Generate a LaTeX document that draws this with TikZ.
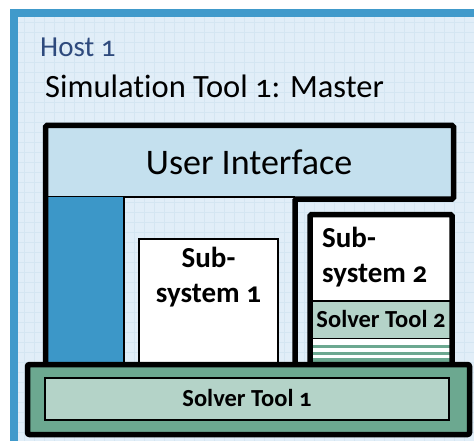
\documentclass[tikz,border=0pt]{standalone}
\usepackage{fontspec}
\setmainfont{Carlito}[Numbers=OldStyle, Ligatures=NoCommon]
\definecolor{bgc}{HTML}{E1EEF8}
\definecolor{gridc}{HTML}{D4E6F2}
\definecolor{framec}{HTML}{409ACB}
\definecolor{hostc}{HTML}{2E4A7D}
\definecolor{uifill}{HTML}{C4E0EE}
\definecolor{colblue}{HTML}{3C97C8}
\definecolor{solvo}{HTML}{6CA890}
\definecolor{solvi}{HTML}{B4D3C8}
\tikzset{
  thickline/.style={line width=5.5pt},
  thinline/.style={line width=1.2pt},
  subtext/.style={font=\bfseries\fontsize{29}{35}\selectfont, inner sep=0pt},
  solvtext/.style={font=\bfseries\fontsize{24.5}{28}\selectfont, inner sep=0pt},
}
\begin{document}
\begin{tikzpicture}[x=1pt,y=-1pt]
\useasboundingbox (0,0) rectangle (474,441);
\clip (0,0) rectangle (474,441);
\fill[white] (0,0) rectangle (474,441);
\fill[bgc] (14,13) rectangle (490,460);
\foreach \gx in {24,34,...,474} \draw[gridc, line width=0.7pt] (\gx,17) -- (\gx,441);
\foreach \gy in {22,32,...,441} \draw[gridc, line width=0.7pt] (18,\gy) -- (474,\gy);
\draw[framec, line width=8pt] (14,13) rectangle (490,460);

\node[anchor=base west, inner sep=0pt, font=\fontsize{29}{34}\selectfont, text=hostc] (host) at (40,57) {Host 1};
\node[anchor=base west, inner sep=0pt, font=\fontsize{32.5}{40}\selectfont] (sim) at (45,98) {Simulation Tool 1: Master};

% user interface
\fill[uifill] (46,126) rectangle (454,197);
\draw[thinline] (46,197) -- (295,197);
\node[anchor=base, inner sep=0pt, font=\fontsize{36}{42}\selectfont] (ui) at (249,175) {User Interface};

% blue column
\fill[colblue] (46,197) rectangle (124,364);
\draw[thinline] (124,197) -- (124,364);

% main outline
\draw[thickline, rounded corners=1.5pt] (45.5,366) -- (45.5,125.5) -- (453.5,125.5) -- (453.5,199) -- (295,199) -- (295,364);

% subsystem 1
\draw[thinline, fill=white] (139,364) -- (139,239) -- (278,239) -- (278,364);
\node[anchor=base, subtext] (s1a) at (208.5,267) {Sub-};
\node[anchor=base, subtext] (s1b) at (208.5,302) {system 1};

% subsystem 2
\fill[white] (310,214.5) rectangle (452,362);
\fill[solvi] (310,301) rectangle (452,338);
\fill[solvo] (310,344.5) rectangle (452,347.8);
\fill[solvo] (310,351.5) rectangle (452,354.8);
\fill[solvo] (310,358) rectangle (452,362);
\draw[thinline] (310,301) -- (452,301);
\draw[thinline] (310,338.5) -- (452,338.5);
\draw[thickline, rounded corners=1.5pt] (310,364) -- (310,214.5) -- (452,214.5) -- (452,364);
\node[anchor=base west, subtext] (s2a) at (322,247) {Sub-};
\node[anchor=base west, subtext] (s2b) at (322,282) {system 2};
\node[anchor=base, solvtext] (st2) at (381,327) {Solver Tool 2};

% solver tool 1
\draw[thickline, fill=solvo, rounded corners=2pt] (27.5,364.5) rectangle (469.5,434.5);
\draw[thinline, fill=solvi] (45,378) rectangle (449,420);
\node[anchor=base, solvtext] (st1) at (247,406) {Solver Tool 1};
\end{tikzpicture}
\end{document}
